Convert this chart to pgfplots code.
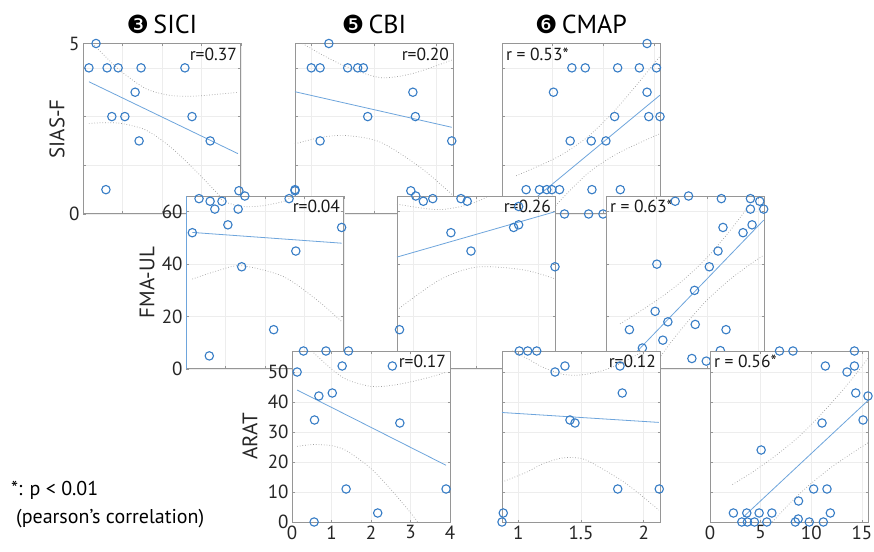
\documentclass[border=0pt]{standalone}
\usepackage{fontspec}
\setmainfont{PT Sans}
\newfontfamily\dejavu{DejaVu Sans}
\usepackage{pgfplots}
\pgfplotsset{compat=1.18}
\definecolor{dotblue}{RGB}{55,125,198}
\definecolor{regblue}{RGB}{110,165,220}
\definecolor{frame}{RGB}{150,150,150}
\newcommand\ticksize{\fontsize{19bp}{21bp}\selectfont}
\newcommand\labsize{\fontsize{21bp}{24bp}\selectfont}
\newcommand\titsize{\fontsize{26bp}{28bp}\selectfont}
\newcommand\rsize{\fontsize{17.5bp}{19bp}\selectfont}
\newcommand\footsize{\fontsize{20bp}{23bp}\selectfont}
\newcommand\numcirc[1]{{\dejavu\fontsize{25bp}{25bp}\selectfont #1}}
\tikzset{rlab/.style={font=\rsize, inner sep=1.5bp, text=black!90}}
\pgfplotsset{
  panel/.style={scale only axis, width=158bp, anchor=north west, clip=false,
    axis background/.style={fill=white},
    axis line style={draw=frame, line width=1bp},
    grid=major, major grid style={draw=gray!14, line width=0.5bp},
    tick style={draw=frame, line width=0.6bp}, major tick length=2.5bp,
    tick label style={font=\ticksize, text=black!85},
    /pgf/number format/assume math mode=true,
    ylabel style={font=\labsize, anchor=center, text=black!85},
    title style={font=\titsize, at={(0.5,1)}, anchor=south, yshift=0bp},
  },
  rowA/.style={panel, height=170.5bp, ymin=0, ymax=7, ytick={0,2,4,6,7}},
  rowB/.style={panel, height=173bp, ymin=0, ymax=66, ytick={0,20,40,60}},
  rowC/.style={panel, height=171bp, ymin=0, ymax=57, ytick={0,10,20,30,40,50}},
  colA/.style={xmin=0, xmax=4, xtick={0,1,2,3,4}},
  colB/.style={xmin=0.87, xmax=2.13, xtick={1,1.5,2}},
  colC/.style={xmin=0, xmax=15.6, xtick={0,5,10,15}},
  pts/.style={only marks, mark=o, mark size=4.2bp, color=dotblue, mark options={line width=1.1bp}},
  reg/.style={color=regblue, line width=0.8bp},
  ci/.style={color=gray!75, dotted, line width=0.7bp, smooth},
}
\begin{document}
\begin{tikzpicture}
\path[use as bounding box] (0,0) rectangle (874bp,-552bp);
% ---------------- A1 SICI vs SIAS-F
\begin{axis}[rowA, colA, at={(83bp,-43.5bp)}, xticklabel=\empty, yticklabels={0,,,,5},
  ylabel={SIAS-F}, ylabel style={at={(axis description cs:-0.165,0.5)}},
  title={\numcirc{❸}\,SICI}]
\addplot[ci] coordinates {(0.24,7) (0.6,6.41) (1.0,5.81) (1.6,5.14) (2.2,4.87) (2.8,4.84) (3.3,4.90) (3.92,4.99)};
\addplot[ci] coordinates {(0.15,3.72) (0.6,3.75) (1.0,3.71) (1.6,3.44) (2.2,2.77) (2.8,1.86) (3.3,1.02) (3.9,0)};
\addplot[reg] coordinates {(0.15,5.43) (3.92,2.48)};
\node[rlab, anchor=north east] at (rel axis cs:0.985,0.985) {r=0.37};
\addplot[pts] coordinates {(0.33,7) (0.15,6) (0.61,6) (0.89,6) (1.47,6) (2.58,6) (1.32,5) (0.73,4) (1.06,4) (2.76,4) (1.42,3) (3.22,3) (0.58,1) (3.92,0)};
\end{axis}
% ---------------- A2 CBI vs SIAS-F
\begin{axis}[rowA, colB, at={(295bp,-43.5bp)}, xticklabel=\empty, yticklabel=\empty,
  title={\numcirc{❺}\,CBI}]
\addplot[ci] coordinates {(0.93,7.0) (1.1,6.5) (1.28,6.05) (1.55,5.6) (1.81,5.77) (2.12,6.32)};
\addplot[ci] coordinates {(0.87,2.88) (1.08,3.15) (1.28,3.22) (1.55,2.95) (1.87,1.91) (2.12,0.81)};
\addplot[reg] coordinates {(0.87,5.02) (2.12,3.56)};
\node[rlab, anchor=north east] at (rel axis cs:0.985,0.985) {r=0.20};
\addplot[pts] coordinates {(1.14,7) (1.00,6) (1.07,6) (1.29,6) (1.37,6) (1.415,6) (1.81,5) (1.45,4) (1.83,4) (1.07,3) (2.12,3) (0.87,1)};
\end{axis}
% ---------------- A3 CMAP vs SIAS-F
\begin{axis}[rowA, colC, at={(502bp,-43.5bp)}, xticklabel=\empty, yticklabel=\empty,
  title={\numcirc{❻}\,CMAP}]
\addplot[ci] coordinates {(1.4,1.57) (4,2.04) (6,2.46) (8.5,3.18) (11,4.19) (13,5.15) (15.6,6.48)};
\addplot[ci] coordinates {(4.6,0) (6,0.66) (8.5,1.68) (11,2.39) (13,2.81) (15.6,3.30)};
\addplot[reg] coordinates {(1.4,0.0) (15.6,4.88)};
\node[rlab, anchor=north west] at (rel axis cs:0.015,0.985) {r = 0.53*};
\addplot[pts] coordinates {(14.32,7) (6.90,6) (8.22,6) (11.42,6) (13.56,6) (15.25,6) (5.08,5) (14.32,5) (11.12,4) (14.49,4) (15.6,4) (6.73,3) (8.81,3) (10.26,3) (2.38,1) (3.70,1) (4.42,1) (4.92,1) (5.68,1) (8.88,1) (11.68,1) (6.17,0) (8.55,0) (9.97,0) (3.14,0) (4.39,0) (11.19,0)};
\end{axis}
% ---------------- B1 SICI vs FMA-UL
\begin{axis}[rowB, colA, at={(186bp,-196bp)}, xticklabel=\empty,
  ylabel={FMA-UL}, ylabel style={at={(axis description cs:-0.247,0.5)}}]
\addplot[ci] coordinates {(0.78,66) (1.0,63.7) (1.41,62.0) (1.9,62.2) (2.46,63.9) (2.71,66)};
\addplot[ci] coordinates {(0.16,34.3) (0.8,37.5) (1.41,39.4) (2.46,35.3) (3.31,26.4) (3.94,18.1)};
\addplot[reg] coordinates {(0.16,52.1) (3.94,48.0)};
\draw[regblue, line width=1bp] (rel axis cs:0,0) -- (rel axis cs:0,1);
\node[rlab, anchor=north east] at (rel axis cs:0.985,0.985) {r=0.04};
\addplot[pts] coordinates {(0.33,65) (0.61,64) (0.91,64) (0.73,61) (1.32,61) (1.34,68) (1.49,66) (2.61,65) (2.76,68) (0.16,52) (1.06,55) (1.41,39) (2.78,45) (3.94,54) (2.22,15) (0.59,5)};
\end{axis}
% ---------------- B2 CBI vs FMA-UL
\begin{axis}[rowB, colB, at={(397bp,-196bp)}, xticklabel=\empty, yticklabel=\empty]
\addplot[ci] coordinates {(0.87,62.9) (1.05,61.5) (1.21,60.8) (1.38,62) (1.51,63.9) (1.6,66)};
\addplot[ci] coordinates {(0.87,22.5) (1.21,34) (1.51,38.9) (1.88,37.8) (2.13,34.4)};
\addplot[reg] coordinates {(0.87,42.7) (2.13,60)};
\node[rlab, anchor=north east] at (rel axis cs:0.985,0.985) {r=0.26};
\addplot[pts] coordinates {(0.98,68) (1.02,66) (1.08,64) (1.155,65) (1.38,65) (1.43,64) (1.84,62) (1.30,52) (1.46,45) (1.80,54) (1.84,55) (2.13,39) (0.89,15)};
\end{axis}
% ---------------- B3 CMAP vs FMA-UL
\begin{axis}[rowB, colC, at={(606bp,-196bp)}, xticklabel=\empty, yticklabel=\empty]
\addplot[ci] coordinates {(1.39,17.2) (3,21.1) (5,26.2) (7,31.9) (9.7,41.4) (12,51.6) (14,61.7) (14.79,66)};
\addplot[ci] coordinates {(4.49,0) (5,2.8) (7,13.1) (9.7,25.2) (12,33.4) (14,39.3) (15.57,43.4)};
\addplot[reg] coordinates {(1.39,0) (15.57,56.8)};
\node[rlab, anchor=north west] at (rel axis cs:0.015,0.985) {r = 0.63*};
\addplot[pts] coordinates {(6.83,64) (8.15,66) (11.39,65) (14.26,65) (15.18,64) (14.26,61) (15.57,61) (11.55,54) (13.53,52) (14.42,55) (11.06,45) (10.20,39) (5.02,40) (8.74,30) (4.85,22) (6.11,18) (8.81,17) (11.85,15) (2.31,15) (5.61,11) (3.59,8) (11.29,7) (8.48,4) (9.90,3) (3.14,4) (4.39,3) (11.19,5)};
\end{axis}
% ---------------- C1 SICI vs ARAT
\begin{axis}[rowC, colA, at={(292bp,-351bp)},
  ylabel={ARAT}, ylabel style={at={(axis description cs:-0.266,0.5)}}]
\addplot[ci] coordinates {(0.5,57) (1.0,51) (1.4,47.4) (2.0,45.2) (2.5,45.5) (3.0,46.7) (3.5,48.3) (3.9,49.9)};
\addplot[ci] coordinates {(0.13,25.2) (0.5,25.8) (1.0,25.45) (1.4,23.6) (2.0,17.8) (2.5,10.9) (3.0,3.1) (3.18,0)};
\addplot[reg] coordinates {(0.13,44) (3.90,18.9)};
\node[rlab, anchor=north east] at (rel axis cs:0.985,0.985) {r=0.17};
\addplot[pts] coordinates {(0.29,57) (0.86,57) (1.43,57) (0.13,50) (1.27,52) (2.54,52) (1.02,43) (0.68,42) (0.57,34) (2.73,33) (1.37,11) (3.90,11) (2.17,3) (0.56,0)};
\end{axis}
% ---------------- C2 CBI vs ARAT
\begin{axis}[rowC, colB, at={(502bp,-351bp)}, yticklabel=\empty]
\addplot[ci] coordinates {(0.95,57) (1.07,54.5) (1.2,51.5) (1.36,49.2) (1.5,49.0) (1.65,50.2) (1.8,52.5) (2.0,57)};
\addplot[ci] coordinates {(0.87,13.3) (1.07,16.7) (1.2,19.5) (1.36,21.4) (1.5,21.2) (1.6,19.4) (1.86,12.8) (2.12,4.0)};
\addplot[reg] coordinates {(0.87,36.5) (2.12,33.2)};
\node[rlab, anchor=north east] at (rel axis cs:0.985,0.985) {r=0.12};
\addplot[pts] coordinates {(1.008,57) (1.075,57) (1.147,57) (1.293,50) (1.372,52) (1.811,52) (1.829,43) (1.412,34) (1.452,33) (1.793,11) (2.124,11) (0.88,3) (0.87,0)};
\end{axis}
% ---------------- C3 CMAP vs ARAT
\begin{axis}[rowC, colC, at={(710bp,-351bp)}, yticklabel=\empty]
\addplot[ci] coordinates {(2.21,12.5) (4,16.2) (6,20.9) (8,26.2) (9,29.2) (10,32.5) (12,39.7) (14,47.6) (15.6,54.6)};
\addplot[ci] coordinates {(6.15,0) (8,6.66) (9,9.9) (10,12.9) (12,18.3) (14,22.9) (15.6,26.4)};
\addplot[reg] coordinates {(3.3,1.7) (15.6,40.5)};
\node[rlab, anchor=north west] at (rel axis cs:0.015,0.985) {r = 0.56*};
\addplot[pts] coordinates {(6.86,57) (8.19,57) (14.26,57) (11.39,52) (14.26,52) (13.53,50) (14.39,43) (15.6,42) (15.11,34) (11.06,33) (5.05,24) (10.23,11) (11.55,11) (8.74,7) (2.31,3) (3.63,3) (4.85,3) (6.11,3) (11.88,3) (3.14,0) (3.69,0) (4.39,0) (5.61,0) (8.42,0) (8.71,1) (9.80,0) (11.19,0)};
\end{axis}
\node[anchor=west, font=\footsize, inner sep=0pt] at (11bp,-490bp) {*: p < 0.01};
\node[anchor=west, font=\footsize, inner sep=0pt] at (16bp,-519bp) {(pearson’s correlation)};
\end{tikzpicture}
\end{document}
